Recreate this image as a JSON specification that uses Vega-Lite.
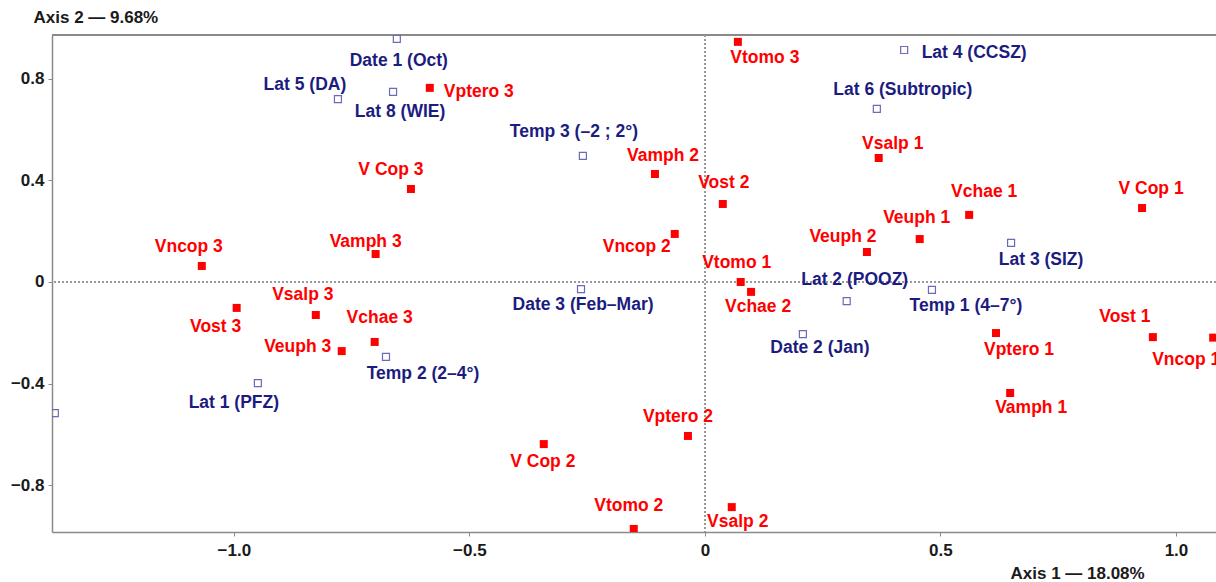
{
  "$schema": "https://vega.github.io/schema/vega-lite/v6.json",
  "width": 1164,
  "height": 497,
  "autosize": {"type": "none"},
  "padding": {"left": 52, "top": 35, "right": 0, "bottom": 50},
  "background": "white",
  "config": {
    "view": {"stroke": null},
    "font": "Liberation Sans",
    "axis": {
      "grid": false,
      "domainColor": "#8a8a8a",
      "domainWidth": 1.5,
      "tickColor": "#8a8a8a",
      "tickWidth": 1,
      "tickSize": 4,
      "labelFont": "Liberation Sans",
      "labelFontSize": 17,
      "labelFontWeight": "bold",
      "labelColor": "#1a1a1a",
      "titleFont": "Liberation Sans",
      "titleFontSize": 17,
      "titleFontWeight": "bold",
      "titleColor": "#1a1a1a"
    }
  },
  "data": {
    "values": [
      {"name": "Vtomo 3", "group": "Variable", "x": 0.070, "y": 0.945},
      {"name": "Vptero 3", "group": "Variable", "x": -0.584, "y": 0.764},
      {"name": "V Cop 3", "group": "Variable", "x": -0.624, "y": 0.366},
      {"name": "Vamph 2", "group": "Variable", "x": -0.106, "y": 0.425},
      {"name": "Vost 2", "group": "Variable", "x": 0.038, "y": 0.307},
      {"name": "Vncop 2", "group": "Variable", "x": -0.064, "y": 0.189},
      {"name": "Vamph 3", "group": "Variable", "x": -0.699, "y": 0.110},
      {"name": "Vncop 3", "group": "Variable", "x": -1.068, "y": 0.063},
      {"name": "Vsalp 3", "group": "Variable", "x": -0.826, "y": -0.130},
      {"name": "Vost 3", "group": "Variable", "x": -0.994, "y": -0.102},
      {"name": "Vchae 3", "group": "Variable", "x": -0.701, "y": -0.236},
      {"name": "Veuph 3", "group": "Variable", "x": -0.771, "y": -0.272},
      {"name": "Vtomo 1", "group": "Variable", "x": 0.076, "y": 0.000},
      {"name": "Vchae 2", "group": "Variable", "x": 0.098, "y": -0.039},
      {"name": "Vsalp 1", "group": "Variable", "x": 0.369, "y": 0.488},
      {"name": "Vchae 1", "group": "Variable", "x": 0.561, "y": 0.264},
      {"name": "Veuph 1", "group": "Variable", "x": 0.456, "y": 0.169},
      {"name": "Veuph 2", "group": "Variable", "x": 0.344, "y": 0.118},
      {"name": "V Cop 1", "group": "Variable", "x": 0.928, "y": 0.291},
      {"name": "Vptero 1", "group": "Variable", "x": 0.618, "y": -0.201},
      {"name": "Vamph 1", "group": "Variable", "x": 0.648, "y": -0.437},
      {"name": "Vost 1", "group": "Variable", "x": 0.951, "y": -0.217},
      {"name": "Vncop 1", "group": "Variable", "x": 1.079, "y": -0.219},
      {"name": "Vtomo 2", "group": "Variable", "x": -0.151, "y": -0.972},
      {"name": "Vsalp 2", "group": "Variable", "x": 0.057, "y": -0.886},
      {"name": "Vptero 2", "group": "Variable", "x": -0.036, "y": -0.606},
      {"name": "V Cop 2", "group": "Variable", "x": -0.342, "y": -0.638},
      {"name": "Date 1 (Oct)", "group": "Supplementary", "x": -0.654, "y": 0.957},
      {"name": "Lat 5 (DA)", "group": "Supplementary", "x": -0.779, "y": 0.720},
      {"name": "Lat 8 (WIE)", "group": "Supplementary", "x": -0.662, "y": 0.748},
      {"name": "Temp 3 (–2 ; 2°)", "group": "Supplementary", "x": -0.259, "y": 0.496},
      {"name": "Lat 4 (CCSZ)", "group": "Supplementary", "x": 0.423, "y": 0.913},
      {"name": "Lat 6 (Subtropic)", "group": "Supplementary", "x": 0.365, "y": 0.681},
      {"name": "Lat 3 (SIZ)", "group": "Supplementary", "x": 0.650, "y": 0.154},
      {"name": "Lat 2 (POOZ)", "group": "Supplementary", "x": 0.301, "y": -0.075},
      {"name": "Temp 1 (4–7°)", "group": "Supplementary", "x": 0.482, "y": -0.031},
      {"name": "Date 2 (Jan)", "group": "Supplementary", "x": 0.208, "y": -0.205},
      {"name": "Date 3 (Feb–Mar)", "group": "Supplementary", "x": -0.263, "y": -0.028},
      {"name": "Temp 2 (2–4°)", "group": "Supplementary", "x": -0.677, "y": -0.295},
      {"name": "Lat 1 (PFZ)", "group": "Supplementary", "x": -0.949, "y": -0.398},
      {"name": "Lat 7", "group": "Supplementary", "x": -1.380, "y": -0.516}
    ]
  },
  "encoding": {
    "x": {
      "field": "x", "type": "quantitative",
      "scale": {"domain": [-1.386, 1.085], "nice": false, "zero": false},
      "axis": {
        "values": [-1, -0.5, 0, 0.5, 1],
        "labelExpr": "datum.value == 0 ? '0' : format(datum.value, '.1f')",
        "labelPadding": 6,
        "title": "Axis 1 — 18.08%",
        "titleAlign": "left",
        "titleAnchor": null,
        "titleX": 958,
        "titleY": 41,
        "titleBaseline": "middle"
      }
    },
    "y": {
      "field": "y", "type": "quantitative",
      "scale": {"domain": [-0.984, 0.972], "nice": false, "zero": false},
      "axis": {
        "values": [-0.8, -0.4, 0, 0.4, 0.8],
        "labelExpr": "datum.value == 0 ? '0' : format(datum.value, '.1f')",
        "labelPadding": 4,
        "title": "Axis 2 — 9.68%",
        "titleAngle": 0,
        "titleAlign": "left",
        "titleAnchor": null,
        "titleX": -19,
        "titleY": -18,
        "titleBaseline": "middle"
      }
    }
  },
  "layer": [
    {
      "mark": {"type": "rule", "color": "#8a8a8a", "strokeWidth": 1.5},
      "encoding": {"x": null, "y": {"datum": 0.972}}
    },
    {
      "mark": {"type": "rule", "color": "#9a9a9a", "strokeWidth": 1.5, "strokeDash": [2, 2]},
      "encoding": {"x": null, "y": {"datum": 0}}
    },
    {
      "mark": {"type": "rule", "color": "#9a9a9a", "strokeWidth": 1.5, "strokeDash": [2, 2]},
      "encoding": {"y": null, "x": {"datum": 0}}
    },
    {
      "transform": [{"filter": "datum.group == 'Variable'"}],
      "mark": {"type": "square", "size": 64, "filled": true, "color": "#ff0000", "opacity": 1, "clip": true}
    },
    {
      "transform": [{"filter": "datum.group == 'Supplementary'"}],
      "mark": {"type": "square", "size": 49, "filled": false, "stroke": "#6a6ab8", "strokeWidth": 1.2, "opacity": 1, "clip": true}
    },
    {
      "transform": [{"filter": "datum.name != 'Lat 7'"}],
      "mark": {
        "type": "text",
        "font": "Liberation Sans",
        "fontSize": 17.5,
        "fontWeight": "bold",
        "align": "center",
        "baseline": "middle",
        "dx": {"expr": "({'Vtomo 3':27,'Vptero 3':49,'V Cop 3':-20,'Vamph 2':8,'Vost 2':1,'Vncop 2':-38,'Vamph 3':-10,'Vncop 3':-13,'Vsalp 3':-13,'Vost 3':-21,'Vchae 3':5,'Veuph 3':-44,'Vtomo 1':-4,'Vchae 2':7,'Vsalp 1':14,'Vchae 1':15,'Veuph 1':-3,'Veuph 2':-24,'V Cop 1':9,'Vptero 1':23,'Vamph 1':21,'Vost 1':-28,'Vncop 1':-27,'Vtomo 2':-5,'Vsalp 2':6,'Vptero 2':-10,'V Cop 2':-1,'Date 1 (Oct)':2,'Lat 5 (DA)':-33,'Lat 8 (WIE)':7,'Temp 3 (–2 ; 2°)':-9,'Lat 4 (CCSZ)':70,'Lat 6 (Subtropic)':26,'Lat 3 (SIZ)':30,'Lat 2 (POOZ)':8,'Temp 1 (4–7°)':34,'Date 2 (Jan)':17,'Date 3 (Feb–Mar)':2,'Temp 2 (2–4°)':37,'Lat 1 (PFZ)':-24})[datum.name] || 0"},
        "dy": {"expr": "({'Vtomo 3':16,'Vptero 3':4,'V Cop 3':-19,'Vamph 2':-18,'Vost 2':-21,'Vncop 2':13,'Vamph 3':-12,'Vncop 3':-19,'Vsalp 3':-20,'Vost 3':19,'Vchae 3':-24,'Veuph 3':-4,'Vtomo 1':-19,'Vchae 2':15,'Vsalp 1':-14,'Vchae 1':-23,'Veuph 1':-21,'Veuph 2':-15,'V Cop 1':-19,'Vptero 1':17,'Vamph 1':15,'Vost 1':-20,'Vncop 1':22,'Vtomo 2':-23,'Vsalp 2':15,'Vptero 2':-19,'V Cop 2':18,'Date 1 (Oct)':22,'Lat 5 (DA)':-14,'Lat 8 (WIE)':20,'Temp 3 (–2 ; 2°)':-24,'Lat 4 (CCSZ)':3,'Lat 6 (Subtropic)':-19,'Lat 3 (SIZ)':17,'Lat 2 (POOZ)':-21,'Temp 1 (4–7°)':16,'Date 2 (Jan)':14,'Date 3 (Feb–Mar)':16,'Temp 2 (2–4°)':17,'Lat 1 (PFZ)':20})[datum.name] || 0"}
      },
      "encoding": {
        "text": {"field": "name"},
        "color": {
          "field": "group", "type": "nominal",
          "scale": {"domain": ["Variable", "Supplementary"], "range": ["#ff0000", "#1c1c80"]},
          "legend": null
        }
      }
    }
  ]
}
